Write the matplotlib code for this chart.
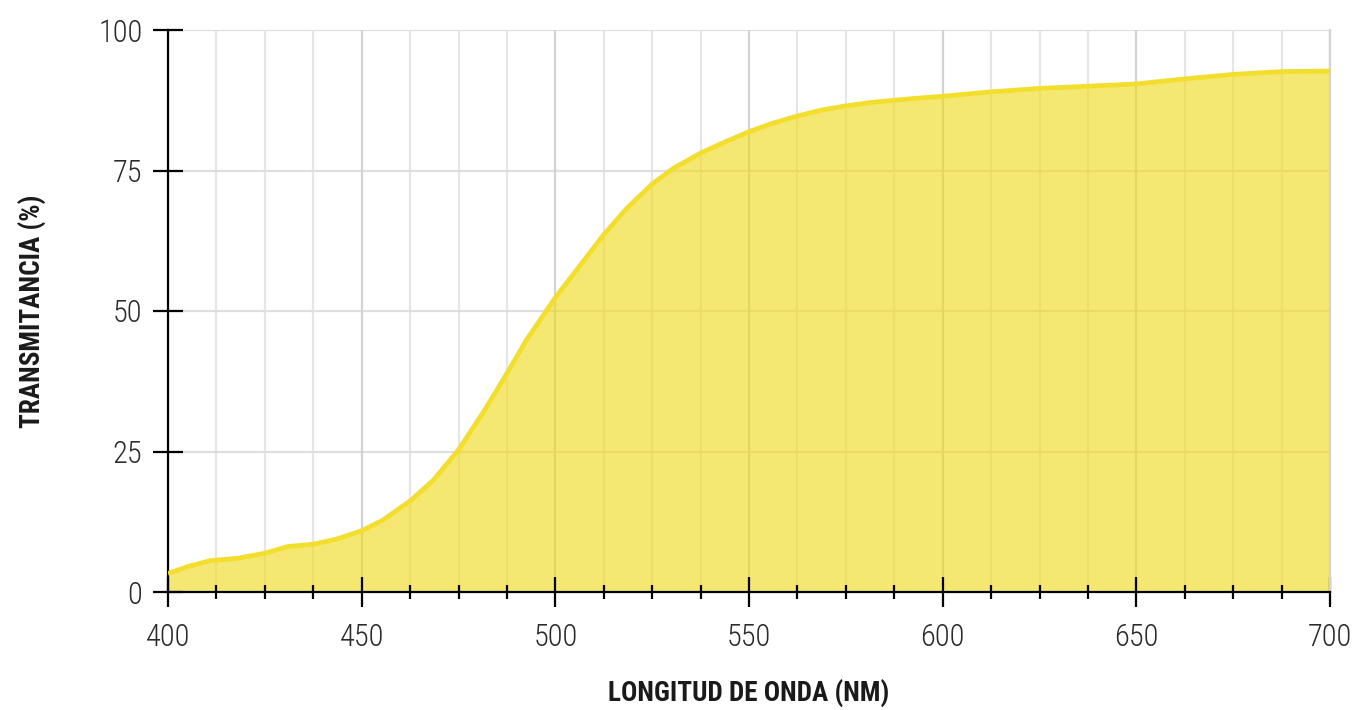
import matplotlib
matplotlib.use("Agg")
import matplotlib.pyplot as plt
from matplotlib.ticker import MultipleLocator

# Transmittance curve
wavelength = [400, 405, 411, 418, 425, 431, 437.5, 443.5, 450, 455.5,
              460, 462.5, 468.5, 475, 481.5, 487.5, 492.5, 500, 506.5, 512.5,
              518.5, 525, 530.5, 537.5, 544.5, 550, 556, 562.5, 569, 575,
              581.5, 587.5, 594, 600, 612.5, 625, 637.5, 650, 662.5, 675,
              687.5, 700]
transmittance = [3.3, 4.5, 5.6, 6.0, 6.9, 8.1, 8.5, 9.4, 10.9, 12.8,
                 15.0, 16.2, 19.9, 25.3, 32.1, 38.9, 44.8, 52.4, 58.2, 63.6,
                 68.3, 72.6, 75.4, 78.1, 80.3, 81.9, 83.4, 84.7, 85.8, 86.5,
                 87.1, 87.5, 87.9, 88.2, 89.0, 89.6, 90.0, 90.4, 91.3, 92.1,
                 92.6, 92.7]

x_ticks = [400, 450, 500, 550, 600, 650, 700]
y_ticks = [0, 25, 50, 75, 100]
x_minor_step = 12.5

plt.rcParams['font.family'] = ['Roboto Condensed', 'Barlow Condensed',
                               'IBM Plex Sans Condensed', 'DejaVu Sans']

fig = plt.figure(figsize=(13.53, 7.10), dpi=100)
ax = fig.add_axes([168 / 1353, 1 - 592 / 710, (1330 - 168) / 1353, (592 - 30) / 710])

ax.set_xlim(400, 700)
ax.set_ylim(0, 100)
ax.set_xticks(x_ticks)
ax.set_yticks(y_ticks)
ax.xaxis.set_minor_locator(MultipleLocator(x_minor_step))

# Grid drawn by hand under the translucent fill; ticks stay above it
for xv in ax.xaxis.get_minorticklocs():
    ax.axvline(xv, color='#e6e6e6', linewidth=1.6, zorder=0.1)
for xv in x_ticks:
    ax.axvline(xv, color='#d3d3d3', linewidth=1.6, zorder=0.15)
for yv in y_ticks[1:]:
    ax.axhline(yv, color='#dfdfdf', linewidth=1.6, zorder=0.12)

ax.fill_between(wavelength, transmittance, 0, color='#f0da1c', alpha=0.62,
                linewidth=0, zorder=0.3)
ax.plot(wavelength, transmittance, color='#f3de2c', linewidth=3.4,
        solid_capstyle='butt', solid_joinstyle='round', zorder=3)

ax.set_axisbelow(True)

# Spines
for side in ['left', 'bottom']:
    ax.spines[side].set_color('black')
    ax.spines[side].set_linewidth(1.6)
ax.spines['top'].set_visible(False)
ax.spines['right'].set_color('#d3d3d3')
ax.spines['right'].set_linewidth(1.6)

# Ticks
ax.tick_params(axis='y', which='major', direction='inout', length=21,
               width=1.6, color='black', pad=8, labelsize=22, labelcolor='#2b2b2b')
ax.tick_params(axis='x', which='major', direction='inout', length=21,
               width=1.6, color='black', pad=12, labelsize=22, labelcolor='#2b2b2b')
ax.tick_params(axis='x', which='minor', direction='inout', length=10,
               width=1.6, color='black')
for lbl in ax.get_xticklabels() + ax.get_yticklabels():
    lbl.set_fontweight('light')

ax.set_xlabel('LONGITUD DE ONDA (NM)', fontsize=19.5, fontweight='bold',
              color='#1a1a1a', labelpad=20)
ax.set_ylabel('TRANSMITANCIA (%)', fontsize=19.5, fontweight='bold',
              color='#1a1a1a', labelpad=37)

fig.savefig('out.png', dpi=100, facecolor='white')
